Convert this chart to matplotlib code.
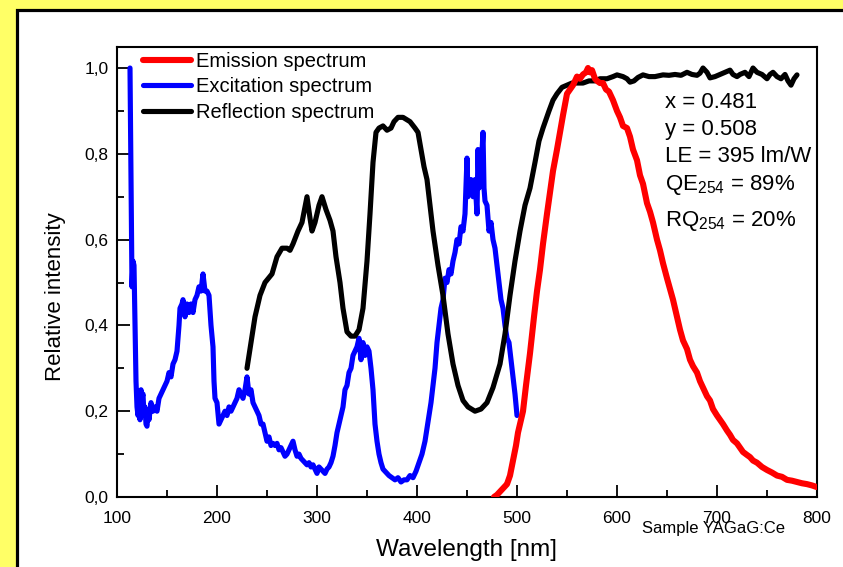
import numpy as np
import matplotlib
matplotlib.use("Agg")
import matplotlib.pyplot as plt
from matplotlib.patches import Rectangle
from matplotlib.ticker import MultipleLocator, FuncFormatter

plt.rcParams['font.family'] = ['Liberation Sans', 'DejaVu Sans']
plt.rcParams['mathtext.fontset'] = 'custom'
plt.rcParams['mathtext.rm'] = 'Liberation Sans'
plt.rcParams['mathtext.it'] = 'Liberation Sans:italic'

# excitation spectrum (blue)
exc_wl = [113, 114, 115, 116, 117, 118, 119, 120, 121, 122, 123, 124, 125, 126, 127, 128, 129, 130, 131, 132,
          134, 136, 138, 140, 142, 144, 146, 148, 150, 152, 154, 156, 158, 160, 162, 163, 165, 166, 168, 170,
          172, 174, 176, 178, 180, 182, 184, 186, 187, 188, 190, 192, 194, 196, 197, 198, 200, 202, 204, 206,
          208, 210, 212, 214, 216, 218, 220, 222, 224, 226, 228, 230, 232, 234, 236, 238, 240, 242, 244, 246,
          248, 250, 252, 254, 256, 258, 260, 262, 264, 266, 268, 270, 272, 274, 276, 278, 280, 282, 284, 286,
          288, 290, 292, 294, 296, 298, 300, 302, 304, 306, 308, 310, 312, 314, 316, 318, 320, 322, 324, 326,
          328, 330, 332, 334, 336, 338, 340, 342, 344, 346, 348, 350, 352, 354, 356, 358, 360, 362, 364, 366,
          368, 370, 372, 375, 378, 381, 384, 387, 390, 393, 396, 399, 402, 405, 408, 410, 412, 414, 416, 418,
          420, 422, 424, 426, 428, 430, 432, 434, 436, 438, 440, 442, 444, 446, 448, 450, 451, 452, 454, 456,
          458, 460, 461, 462, 464, 466, 467, 468, 470, 472, 474, 476, 478, 480, 482, 484, 486, 488, 490, 492,
          494, 496, 498, 500]
exc_val = [1.0, 0.75, 0.49, 0.55, 0.54, 0.40, 0.27, 0.21, 0.19, 0.22, 0.18, 0.25, 0.23, 0.24, 0.19, 0.21, 0.17, 0.165, 0.20, 0.18,
           0.22, 0.20, 0.21, 0.20, 0.23, 0.24, 0.25, 0.26, 0.27, 0.29, 0.28, 0.31, 0.32, 0.34, 0.40, 0.44, 0.45, 0.46, 0.42, 0.45,
           0.43, 0.45, 0.43, 0.46, 0.47, 0.49, 0.48, 0.52, 0.50, 0.48, 0.48, 0.47, 0.40, 0.35, 0.27, 0.23, 0.22, 0.17, 0.18, 0.19,
           0.20, 0.19, 0.21, 0.20, 0.21, 0.22, 0.23, 0.25, 0.24, 0.23, 0.25, 0.28, 0.24, 0.25, 0.22, 0.21, 0.20, 0.19, 0.17, 0.17,
           0.15, 0.13, 0.14, 0.12, 0.125, 0.12, 0.125, 0.11, 0.115, 0.105, 0.095, 0.10, 0.11, 0.12, 0.13, 0.11, 0.095, 0.10, 0.09, 0.085,
           0.08, 0.075, 0.08, 0.07, 0.075, 0.065, 0.055, 0.07, 0.065, 0.06, 0.055, 0.065, 0.07, 0.08, 0.095, 0.12, 0.15, 0.17, 0.19, 0.21,
           0.25, 0.26, 0.29, 0.30, 0.33, 0.34, 0.35, 0.37, 0.32, 0.36, 0.33, 0.35, 0.34, 0.30, 0.25, 0.17, 0.13, 0.10, 0.08, 0.065,
           0.06, 0.055, 0.05, 0.045, 0.04, 0.045, 0.035, 0.04, 0.04, 0.05, 0.045, 0.06, 0.08, 0.10, 0.13, 0.16, 0.19, 0.22, 0.26, 0.30,
           0.36, 0.40, 0.44, 0.46, 0.51, 0.50, 0.53, 0.52, 0.55, 0.57, 0.60, 0.59, 0.63, 0.62, 0.66, 0.79, 0.70, 0.72, 0.74, 0.70,
           0.74, 0.66, 0.81, 0.72, 0.76, 0.85, 0.72, 0.69, 0.68, 0.62, 0.64, 0.60, 0.58, 0.54, 0.50, 0.46, 0.44, 0.40, 0.37, 0.36,
           0.32, 0.28, 0.24, 0.19]

# reflection spectrum (black)
ref_wl = [230, 234, 238, 243, 248, 255, 260, 265, 270, 273, 276, 281, 285, 290, 293, 295, 298, 302, 305, 309,
          313, 316, 319, 323, 326, 330, 334, 338, 342, 346, 350, 353, 356, 359, 362, 366, 370, 374, 377, 381,
          386, 393, 398, 401, 404, 407, 410, 413, 416, 421, 426, 431, 436, 441, 446, 451, 458, 464, 470, 476,
          483, 488, 493, 498, 503, 508, 513, 518, 522, 526, 532, 536, 540, 545, 550, 555, 560, 566, 572, 578,
          583, 590, 596, 600, 606, 610, 613, 617, 621, 626, 632, 638, 646, 652, 658, 664, 670, 675, 680, 683,
          686, 690, 693, 698, 703, 708, 713, 716, 720, 723, 728, 732, 736, 740, 745, 750, 753, 756, 760, 764,
          768, 771, 774, 777, 780]
ref_val = [0.30, 0.36, 0.42, 0.47, 0.50, 0.52, 0.56, 0.58, 0.58, 0.575, 0.59, 0.62, 0.64, 0.70, 0.65, 0.62, 0.64, 0.68, 0.70, 0.67,
           0.645, 0.62, 0.56, 0.50, 0.44, 0.385, 0.375, 0.375, 0.39, 0.44, 0.55, 0.66, 0.78, 0.85, 0.86, 0.865, 0.855, 0.86, 0.875, 0.885,
           0.885, 0.875, 0.86, 0.85, 0.81, 0.77, 0.74, 0.68, 0.62, 0.54, 0.47, 0.38, 0.31, 0.26, 0.225, 0.21, 0.20, 0.205, 0.22, 0.255,
           0.31, 0.38, 0.47, 0.55, 0.62, 0.68, 0.72, 0.78, 0.83, 0.86, 0.90, 0.925, 0.94, 0.955, 0.96, 0.965, 0.965, 0.965, 0.97, 0.97,
           0.975, 0.975, 0.98, 0.984, 0.98, 0.975, 0.967, 0.97, 0.978, 0.984, 0.98, 0.98, 0.984, 0.983, 0.985, 0.983, 0.99, 0.985, 0.983, 0.988,
           1.0, 0.99, 0.977, 0.98, 0.985, 0.99, 0.995, 0.985, 0.98, 0.985, 0.99, 0.98, 1.0, 0.99, 0.985, 0.975, 0.985, 0.99, 0.98, 0.975,
           0.985, 0.97, 0.96, 0.975, 0.984]

# emission spectrum (red)
em_wl = [477, 480, 484, 488, 490, 493, 496, 499, 501, 504, 506, 509, 513, 517, 520, 523, 526, 530, 533, 536,
         540, 543, 546, 550, 553, 556, 560, 563, 566, 569, 571, 573, 575, 578, 580, 583, 586, 589, 592, 596,
         600, 603, 606, 610, 613, 616, 620, 623, 626, 630, 633, 636, 640, 643, 646, 650, 653, 656, 660, 663,
         666, 670, 673, 676, 680, 683, 686, 690, 693, 696, 700, 703, 706, 710, 713, 716, 720, 723, 726, 730,
         733, 736, 740, 745, 750, 755, 760, 765, 770, 775, 780, 785, 790, 795, 800]
em_val = [0.0, 0.005, 0.015, 0.025, 0.03, 0.05, 0.085, 0.12, 0.15, 0.18, 0.20, 0.26, 0.335, 0.42, 0.48, 0.53, 0.59, 0.66, 0.71, 0.76,
          0.81, 0.85, 0.89, 0.94, 0.95, 0.96, 0.98, 0.975, 0.985, 0.99, 1.0, 0.99, 0.995, 0.975, 0.97, 0.965, 0.965, 0.95, 0.945, 0.925,
          0.90, 0.885, 0.865, 0.86, 0.84, 0.81, 0.785, 0.75, 0.73, 0.685, 0.665, 0.64, 0.60, 0.575, 0.545, 0.51, 0.485, 0.46, 0.42, 0.39,
          0.365, 0.345, 0.32, 0.305, 0.29, 0.27, 0.255, 0.235, 0.225, 0.205, 0.19, 0.18, 0.17, 0.155, 0.145, 0.133, 0.125, 0.115, 0.105, 0.098,
          0.093, 0.085, 0.08, 0.07, 0.063, 0.057, 0.05, 0.047, 0.04, 0.038, 0.035, 0.032, 0.03, 0.027, 0.023]

info_lines = ['x = 0.481', 'y = 0.508', 'LE = 395 lm/W',
              r'QE$_{254}$ = 89%', r'RQ$_{254}$ = 20%']

W, H = 843, 567
fig = plt.figure(figsize=(W / 100, H / 100), dpi=100, facecolor='#ffff66')

# white panel with black frame (runs off the right and bottom edges)
fig.patches.append(Rectangle((16.5 / W, -0.1), 1.2, (H - 9.5) / H + 0.1,
                             transform=fig.transFigure, facecolor='white',
                             edgecolor='black', linewidth=2.3, zorder=-5))

ax = fig.add_axes([117 / W, 1 - 497 / H, 700 / W, 450 / H])
ax.set_facecolor('none')

lw = 3.7
l_exc, = ax.plot(exc_wl, exc_val, color='#0000ff', lw=lw, solid_joinstyle='round',
                 solid_capstyle='round', label='Excitation spectrum', zorder=2)
l_ref, = ax.plot(ref_wl, ref_val, color='black', lw=lw, solid_joinstyle='round',
                 solid_capstyle='round', label='Reflection spectrum', zorder=3)
l_em, = ax.plot(em_wl, em_val, color='#ff0000', lw=4.4, solid_joinstyle='round',
                solid_capstyle='round', label='Emission spectrum', zorder=4)

ax.set_xlim(100, 800)
ax.set_ylim(0, 1.049)
ax.xaxis.set_major_locator(MultipleLocator(100))
ax.xaxis.set_minor_locator(MultipleLocator(50))
ax.yaxis.set_major_locator(MultipleLocator(0.2))
ax.yaxis.set_minor_locator(MultipleLocator(0.1))
ax.yaxis.set_major_formatter(FuncFormatter(lambda v, p: f'{v:.1f}'.replace('.', ',')))
ax.tick_params(which='both', direction='in', width=1.3, labelsize=12.5)
ax.tick_params(which='major', length=9)
ax.tick_params(which='minor', length=5)
ax.tick_params(axis='x', which='major', pad=10)
ax.tick_params(axis='y', which='major', pad=6)
for s in ax.spines.values():
    s.set_linewidth(1.5)

fig.text(467 / W, 1 - 550 / H, 'Wavelength [nm]', fontsize=17.5, ha='center', va='center')
fig.text(55 / W, 1 - 297 / H, 'Relative intensity', fontsize=16, rotation=90,
         ha='center', va='center')

ax.legend(handles=[l_em, l_exc, l_ref], loc='upper left', frameon=False,
          bbox_to_anchor=(0.017, 1.02), fontsize=14.5, handlelength=2.4,
          handletextpad=0.25, labelspacing=0.31, borderaxespad=0.3)

ys = [103, 130, 157, 185, 221]
for t, yy in zip(info_lines, ys):
    fig.text(665 / W, 1 - yy / H, t, fontsize=16, va='center', ha='left')

fig.text(642 / W, 1 - 528 / H, 'Sample YAGaG:Ce', fontsize=12, va='center', ha='left')

fig.savefig('out.png', dpi=100, facecolor=fig.get_facecolor())
